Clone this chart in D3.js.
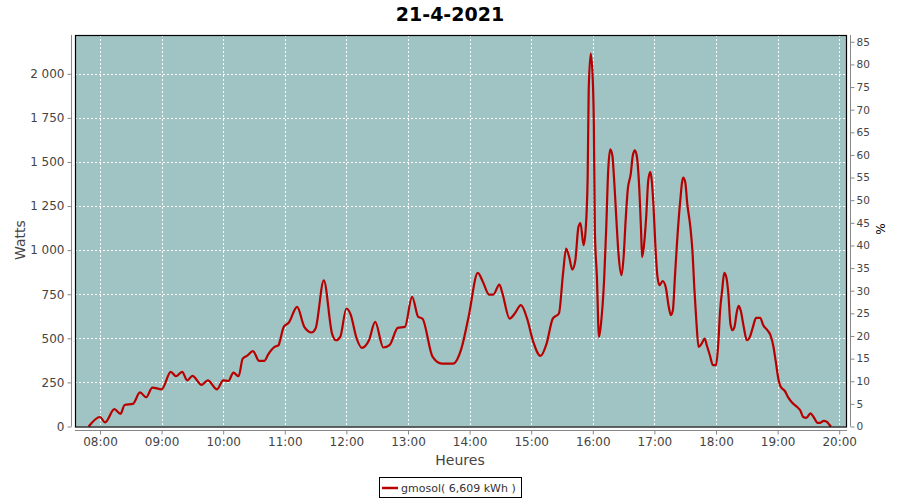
<!DOCTYPE html>
<html>
<head>
<meta charset="utf-8">
<script src="https://cdn.jsdelivr.net/npm/d3@7"></script>
<style>
  html, body { margin: 0; padding: 0; background: #fff; }
  svg { display: block; }
  text { font-family: "DejaVu Sans", sans-serif; }
</style>
</head>
<body>
<svg id="chart" width="900" height="500"></svg>
<script>
const title = "21-4-2021";
const seriesName = "gmosol( 6,609 kWh )";
const times = ["07:49","08:00","08:05","08:14","08:20","08:24","08:32","08:39","08:45","08:51",
  "09:00","09:09","09:14","09:20","09:25","09:30","09:39","09:45","09:54","10:00",
  "10:05","10:10","10:15","10:19","10:23","10:29","10:35","10:40","10:44","10:50",
  "10:54","10:55","10:59","11:04","11:12","11:19","11:26","11:30","11:38","11:46",
  "11:50","11:54","12:00","12:04","12:10","12:15","12:22","12:28","12:36","12:42",
  "12:50","12:57","13:04","13:10","13:14","13:24","13:33","13:44","13:52","13:59",
  "14:08","14:13","14:19","14:23","14:29","14:32","14:39","14:44","14:50","14:56",
  "15:02","15:09","15:15","15:21","15:27","15:31","15:34","15:37","15:40","15:43",
  "15:46","15:48","15:51","15:53","15:55","15:56","15:58","16:00","16:01","16:02",
  "16:04","16:06","16:08","16:11","16:13","16:15","16:17","16:19","16:21","16:23",
  "16:25","16:28","16:30","16:32","16:34","16:37","16:39","16:41","16:43","16:45",
  "16:47","16:48","16:50","16:52","16:54","16:56","16:57","16:59","17:01","17:03",
  "17:05","17:08","17:11","17:14","17:16","17:18","17:20","17:22","17:25","17:28",
  "17:30","17:32","17:35","17:37","17:39","17:41","17:43","17:46","17:49","17:51",
  "17:54","17:57","18:00","18:02","18:04","18:06","18:08","18:10","18:12","18:14",
  "18:16","18:18","18:20","18:22","18:24","18:27","18:30","18:33","18:36","18:39",
  "18:43","18:46","18:50","18:53","18:56","18:58","19:01","19:03","19:07","19:10",
  "19:14","19:19","19:22","19:25","19:28","19:32","19:35","19:39","19:41","19:45",
  "19:48","19:50","19:52"];
const watts = [0,54,23,98,72,122,128,193,166,221,
  211,310,285,310,262,287,236,262,211,262,
  258,306,285,385,400,427,372,372,410,451,
  461,480,565,590,678,565,533,556,829,527,
  489,508,669,637,499,446,489,593,448,461,
  559,565,735,621,612,395,357,357,442,621,
  871,820,748,748,805,754,612,641,688,612,
  480,400,470,612,641,867,1009,961,890,943,
  1132,1154,1028,1113,1415,1906,2114,1963,1718,1113,
  848,508,584,829,1113,1453,1572,1538,1378,1170,
  981,858,961,1170,1340,1434,1538,1566,1528,1378,
  1113,961,1037,1188,1396,1443,1415,1264,1018,848,
  801,825,791,678,631,660,850,1040,1270,1412,
  1387,1264,1132,999,773,584,451,470,499,461,
  404,348,348,451,659,773,871,848,754,584,
  546,565,641,684,659,565,489,508,565,616,
  616,574,546,518,451,376,262,225,202,168,
  136,111,92,54,49,74,54,20,20,32,
  26,13,0];
const xTicks = ["08:00","09:00","10:00","11:00","12:00","13:00","14:00","15:00","16:00","17:00","18:00","19:00","20:00"];
const wattTicks = [0,250,500,750,1000,1250,1500,1750,2000];
const pctTicks = [0,5,10,15,20,25,30,35,40,45,50,55,60,65,70,75,80,85];
const xStart = "07:35:40", xEnd = "20:07:35";
const wattMax = 2220, pctMax = 86.5;

const parseT = d3.timeParse("%H:%M");
const parseS = d3.timeParse("%H:%M:%S");
const data = times.map((t, i) => ({ t: parseT(t), v: watts[i] }));

const svg = d3.select("#chart");
const L = 75, R = 847, T = 35, B = 426.5;
const bg = "#9fc4c3", red = "#b80000", txt = "#444";

const x = d3.scaleTime().domain([parseS(xStart), parseS(xEnd)]).range([L, R]);
const y = d3.scaleLinear().domain([0, wattMax]).range([B, T]);
const y2 = d3.scaleLinear().domain([0, pctMax]).range([B, T]);
const loc = d3.formatLocale({ decimal: ",", thousands: " ", grouping: [3], currency: ["", ""] });
const fmt = loc.format(",d");

// plot background
svg.append("rect").attr("x", L).attr("y", T).attr("width", R - L).attr("height", B - T).attr("fill", bg);

// grid
const grid = svg.append("g").attr("stroke", "#fff").attr("stroke-width", 1).attr("stroke-dasharray", "2,2");
xTicks.forEach(s => {
  const px = Math.round(x(parseT(s))) + 0.5;
  grid.append("line").attr("x1", px).attr("x2", px).attr("y1", T).attr("y2", B);
});
wattTicks.forEach(v => {
  const py = Math.round(y(v)) + 0.5;
  grid.append("line").attr("x1", L).attr("x2", R).attr("y1", py).attr("y2", py);
});

// line
const line = d3.line().x(d => x(d.t)).y(d => y(d.v)).curve(d3.curveMonotoneX);
svg.append("path").datum(data).attr("d", line).attr("fill", "none")
  .attr("stroke", red).attr("stroke-width", 2.2).attr("stroke-linejoin", "round");

// plot border
svg.append("rect").attr("x", L + 0.5).attr("y", T + 0.5).attr("width", R - L - 1).attr("height", B - T)
  .attr("fill", "none").attr("stroke", "#000").attr("stroke-width", 1.2);

// axes
function styleAxis(g, size) {
  g.selectAll(".domain").attr("stroke", "#888");
  g.selectAll(".tick line").attr("stroke", "#888");
  g.selectAll(".tick text").attr("fill", txt).style("font-size", size + "px").style("font-family", "DejaVu Sans, sans-serif");
}
const xAxis = svg.append("g").attr("transform", `translate(0,${430.5})`)
  .call(d3.axisBottom(x).tickValues(xTicks.map(parseT)).tickFormat(d3.timeFormat("%H:%M")).tickSize(4).tickSizeOuter(0).tickPadding(3));
styleAxis(xAxis, 12);

const yAxis = svg.append("g").attr("transform", `translate(${71.5},0)`)
  .call(d3.axisLeft(y).tickValues(wattTicks).tickFormat(fmt).tickSize(4).tickSizeOuter(0).tickPadding(3));
styleAxis(yAxis, 12);
yAxis.select(".domain").attr("d", `M0,${T}V${B}`);

const y2Axis = svg.append("g").attr("transform", `translate(${850.5},0)`)
  .call(d3.axisRight(y2).tickValues(pctTicks).tickSize(4).tickSizeOuter(0).tickPadding(2));
styleAxis(y2Axis, 10.5);
y2Axis.select(".domain").attr("d", `M0,${T}V${B}`);
xAxis.select(".domain").attr("d", `M${L},0H${R}`);

// titles
svg.append("text").attr("x", 450).attr("y", 21).attr("text-anchor", "middle")
  .style("font-size", "19px").style("font-weight", "bold").attr("fill", "#000").text(title);
svg.append("text").attr("transform", "translate(25,240) rotate(-90)").attr("text-anchor", "middle")
  .style("font-size", "14px").attr("fill", txt).text("Watts");
svg.append("text").attr("transform", "translate(885,229) rotate(-90)").attr("text-anchor", "middle")
  .style("font-size", "12px").attr("fill", "#000").text("%");
svg.append("text").attr("x", 460).attr("y", 465).attr("text-anchor", "middle")
  .style("font-size", "14px").attr("fill", txt).text("Heures");

// legend
const lg = svg.append("g");
lg.append("rect").attr("x", 379.5).attr("y", 477.5).attr("width", 142).attr("height", 20)
  .attr("fill", "#fff").attr("stroke", "#000").attr("stroke-width", 1);
lg.append("line").attr("x1", 382).attr("x2", 398).attr("y1", 488).attr("y2", 488)
  .attr("stroke", red).attr("stroke-width", 2.5);
lg.append("text").attr("x", 401).attr("y", 492).style("font-size", "11px").attr("fill", "#333").text(seriesName);
</script>
</body>
</html>
